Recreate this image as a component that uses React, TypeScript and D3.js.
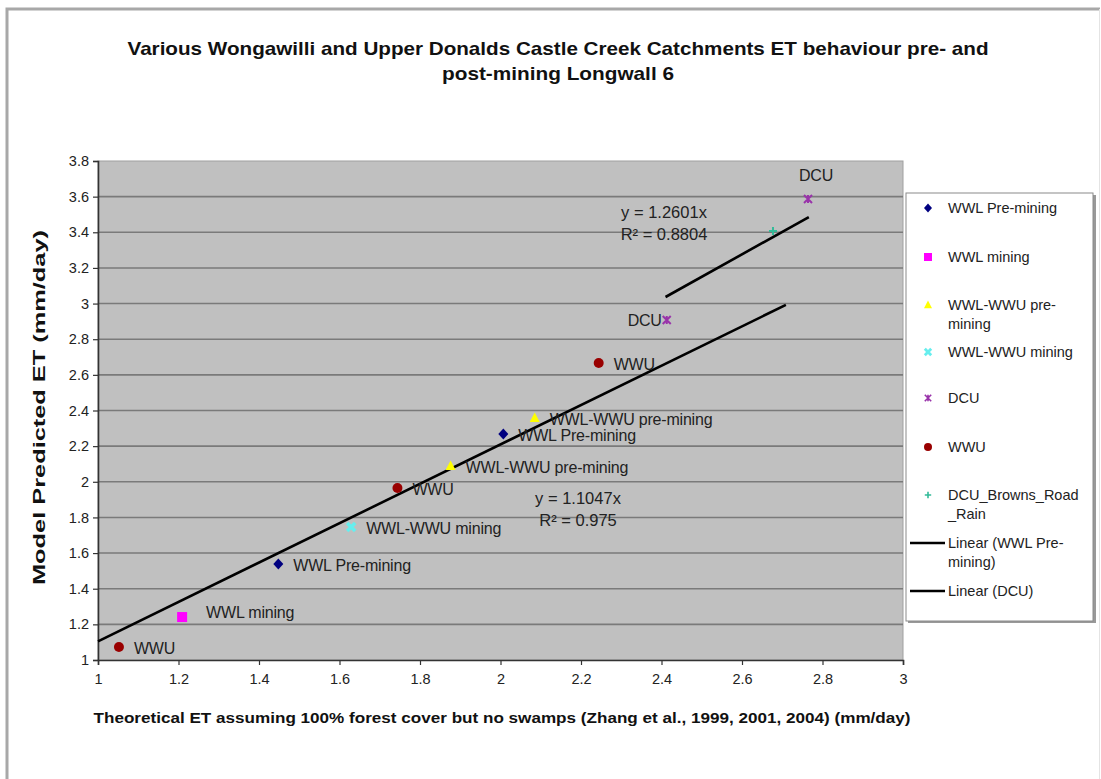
import React, { useEffect, useRef } from "react";
import * as d3 from "d3";

// series values (x = theoretical ET, y = model predicted ET)
const wwlPreX = [1.448, 2.007];
const wwlPreY = [1.539, 2.268];
const wwlMiningX = [1.209];
const wwlMiningY = [1.241];
const wwlWwuPreX = [1.876, 2.085];
const wwlWwuPreY = [2.089, 2.358];
const wwlWwuMiningX = [1.629];
const wwlWwuMiningY = [1.746];
const dcuX = [2.413, 2.764];
const dcuY = [2.908, 3.587];
const wwuX = [1.052, 1.744, 2.244];
const wwuY = [1.073, 1.965, 2.667];
const dcuBrownsX = [2.677];
const dcuBrownsY = [3.407];

const seriesNames = [
  "WWL Pre-mining",
  "WWL mining",
  "WWL-WWU pre-mining",
  "WWL-WWU mining",
  "DCU",
  "WWU",
  "DCU_Browns_Road_Rain",
];
const legendNames = [
  ["WWL Pre-mining"],
  ["WWL mining"],
  ["WWL-WWU pre-", "mining"],
  ["WWL-WWU mining"],
  ["DCU"],
  ["WWU"],
  ["DCU_Browns_Road", "_Rain"],
  ["Linear (WWL Pre-", "mining)"],
  ["Linear (DCU)"],
];

// trendlines through origin
const trendSlopes = [1.1047, 1.2601];
const trendR2 = [0.975, 0.8804];
const trendFromX = [1.0, 2.41];
const trendToX = [2.709, 2.766];

const xTicks = [1, 1.2, 1.4, 1.6, 1.8, 2, 2.2, 2.4, 2.6, 2.8, 3];
const yTicks = [1, 1.2, 1.4, 1.6, 1.8, 2, 2.2, 2.4, 2.6, 2.8, 3, 3.2, 3.4, 3.6, 3.8];

const title1 = "Various Wongawilli and Upper Donalds Castle Creek Catchments  ET behaviour pre- and";
const title2 = "post-mining Longwall 6";
const xTitle = "Theoretical ET assuming 100% forest cover but no swamps (Zhang et al., 1999, 2001, 2004) (mm/day)";
const yTitle = "Model Predicted ET (mm/day)";

const FONT = "Liberation Sans, Arial, sans-serif";

export default function App() {
  const ref = useRef<SVGSVGElement>(null);

  useEffect(() => {
    const svg = d3.select(ref.current);
    svg.selectAll("*").remove();

    const x = d3.scaleLinear().domain([1, 3]).range([98, 903]);
    const y = d3.scaleLinear().domain([1, 3.8]).range([660, 161]);

    // outer chart frame
    svg.append("rect").attr("x", 0).attr("y", 0).attr("width", 1101).attr("height", 779).attr("fill", "#fff");
    svg.append("path")
      .attr("d", "M7,790 L7,9 L1100,9")
      .attr("fill", "none").attr("stroke", "#a8a8a8").attr("stroke-width", 3);
    svg.append("line").attr("x1", 1099.5).attr("x2", 1099.5).attr("y1", 9).attr("y2", 779)
      .attr("stroke", "#e4e4e4").attr("stroke-width", 1);

    // title
    const t = svg.append("text").attr("font-family", FONT).attr("font-weight", "bold")
      .attr("font-size", 18.5).attr("fill", "#111").attr("text-anchor", "middle");
    t.append("tspan").attr("x", 558).attr("y", 55).attr("textLength", 861)
      .attr("lengthAdjust", "spacingAndGlyphs").text(title1);
    t.append("tspan").attr("x", 558).attr("y", 80).attr("textLength", 232)
      .attr("lengthAdjust", "spacingAndGlyphs").text(title2);

    // plot area
    svg.append("rect").attr("x", x(1)).attr("y", y(3.8)).attr("width", x(3) - x(1)).attr("height", y(1) - y(3.8))
      .attr("fill", "#c0c0c0").attr("stroke", "#a0a0a0").attr("stroke-width", 1);

    svg.append("g").selectAll("line").data(yTicks.slice(1, -1)).enter().append("line")
      .attr("x1", x(1)).attr("x2", x(3)).attr("y1", (d) => y(d)).attr("y2", (d) => y(d))
      .attr("stroke", "#7a7a7a").attr("stroke-width", 1.6);

    // axes
    const xAxis = svg.append("g").attr("transform", `translate(0,${y(1)})`)
      .call(d3.axisBottom(x).tickValues(xTicks).tickSize(5).tickFormat((d) => String(d)));
    const yAxis = svg.append("g").attr("transform", `translate(${x(1)},0)`)
      .call(d3.axisLeft(y).tickValues(yTicks).tickSize(5).tickFormat((d) => String(d)));
    [xAxis, yAxis].forEach((a) => {
      a.select(".domain").attr("stroke", "#333").attr("stroke-width", 1.6);
      a.selectAll(".tick line").attr("stroke", "#333").attr("stroke-width", 1.2);
      a.selectAll("text").attr("font-family", FONT).attr("font-size", 14.5).attr("fill", "#222");
    });
    xAxis.selectAll("text").attr("dy", "0.71em").attr("y", 14);
    yAxis.selectAll("text").attr("x", -9);

    svg.append("text").attr("x", 502).attr("y", 723).attr("text-anchor", "middle")
      .attr("font-family", FONT).attr("font-weight", "bold").attr("font-size", 15.5).attr("fill", "#111")
      .attr("textLength", 817).attr("lengthAdjust", "spacingAndGlyphs").text(xTitle);
    svg.append("text").attr("transform", `translate(45,${(230 + 585) / 2}) rotate(-90)`).attr("text-anchor", "middle")
      .attr("font-family", FONT).attr("font-weight", "bold").attr("font-size", 16).attr("fill", "#111")
      .attr("textLength", 355).attr("lengthAdjust", "spacingAndGlyphs").text(yTitle);

    // trendlines
    const line = d3.line<number>().x((d) => x(d[0])).y((d) => y(d[1]));
    trendSlopes.forEach((m, i) => {
      svg.append("path")
        .attr("d", line([[trendFromX[i], m * trendFromX[i]], [trendToX[i], m * trendToX[i]]] as any))
        .attr("stroke", "#000").attr("stroke-width", 2.6).attr("fill", "none");
    });

    // markers
    const marker = (g: any, kind: string, color: string) => {
      if (kind === "diamond") g.append("path").attr("d", "M0,-5.5 L5,0 L0,5.5 L-5,0Z").attr("fill", color);
      else if (kind === "square") g.append("rect").attr("x", -5).attr("y", -5).attr("width", 10).attr("height", 10).attr("fill", color);
      else if (kind === "triangle") g.append("path").attr("d", "M0,-5.5 L5,4 L-5,4Z").attr("fill", color);
      else if (kind === "circle") g.append("circle").attr("r", 5).attr("fill", color);
      else if (kind === "x") g.append("path").attr("d", "M-4,-4 L4,4 M4,-4 L-4,4").attr("stroke", color).attr("stroke-width", 3.5);
      else if (kind === "star") g.append("path").attr("d", "M-4,-4 L4,4 M4,-4 L-4,4 M0,-4 L0,4").attr("stroke", color).attr("stroke-width", 2);
      else if (kind === "plus") g.append("path").attr("d", "M-4,0 L4,0 M0,-4 L0,4").attr("stroke", color).attr("stroke-width", 2);
    };

    const series = [
      { xs: wwlPreX, ys: wwlPreY, kind: "diamond", color: "#000080" },
      { xs: wwlMiningX, ys: wwlMiningY, kind: "square", color: "#ff00ff" },
      { xs: wwlWwuPreX, ys: wwlWwuPreY, kind: "triangle", color: "#ffff00" },
      { xs: wwlWwuMiningX, ys: wwlWwuMiningY, kind: "x", color: "#66eeee" },
      { xs: dcuX, ys: dcuY, kind: "star", color: "#9933aa" },
      { xs: wwuX, ys: wwuY, kind: "circle", color: "#990000" },
      { xs: dcuBrownsX, ys: dcuBrownsY, kind: "plus", color: "#33bb99" },
    ];

    series.forEach((s, si) => {
      s.xs.forEach((vx, j) => {
        const g = svg.append("g").attr("transform", `translate(${x(vx)},${y(s.ys[j])})`);
        marker(g, s.kind, s.color);
        if (si === 6) return;
        const lab = g.append("text").attr("font-family", FONT).attr("font-size", 16).attr("fill", "#222")
          .attr("dy", "0.35em").attr("letter-spacing", -0.2).text(seriesNames[si]);
        if (si === 4 && j === 0) lab.attr("text-anchor", "end").attr("x", -5);
        else if (si === 4) lab.attr("text-anchor", "middle").attr("x", 8).attr("y", -24);
        else if (si === 1) lab.attr("x", 24).attr("y", -5);
        else lab.attr("x", 15).attr("y", 1);
      });
    });

    // trendline equations
    const eq = [
      { x: 578, y: 504 },
      { x: 664, y: 218 },
    ];
    trendSlopes.forEach((m, i) => {
      const e = svg.append("text").attr("font-family", FONT).attr("font-size", 16.5).attr("fill", "#222")
        .attr("text-anchor", "middle");
      e.append("tspan").attr("x", eq[i].x).attr("y", eq[i].y).text(`y = ${m}x`);
      e.append("tspan").attr("x", eq[i].x).attr("y", eq[i].y + 22).text(`R² = ${trendR2[i]}`);
    });

    // legend
    const lg = svg.append("g");
    lg.append("rect").attr("x", 908).attr("y", 195).attr("width", 188).attr("height", 428).attr("fill", "#999");
    lg.append("rect").attr("x", 906).attr("y", 193).attr("width", 187).attr("height", 428)
      .attr("fill", "#fff").attr("stroke", "#8a8a8a").attr("stroke-width", 1);
    const rowY = [208, 257, 305, 352, 398, 447, 495, 543, 591];
    legendNames.forEach((names, i) => {
      const g = lg.append("g").attr("transform", `translate(0,${rowY[i]})`);
      if (i < series.length) {
        const mg = g.append("g").attr("transform", "translate(928,0) scale(0.8)");
        marker(mg, series[i].kind, series[i].color);
      } else {
        g.append("line").attr("x1", 910).attr("x2", 945).attr("y1", 0).attr("y2", 0)
          .attr("stroke", "#000").attr("stroke-width", 2.6);
      }
      const tx = g.append("text").attr("font-family", FONT).attr("font-size", 14.5).attr("fill", "#222");
      names.forEach((n, k) => {
        tx.append("tspan").attr("x", 948).attr("y", k * 19).attr("dy", "0.35em").text(n);
      });
    });
  }, []);

  return (
    <svg ref={ref} width={1101} height={779} style={{ position: "absolute", left: 0, top: 0 }} />
  );
}
